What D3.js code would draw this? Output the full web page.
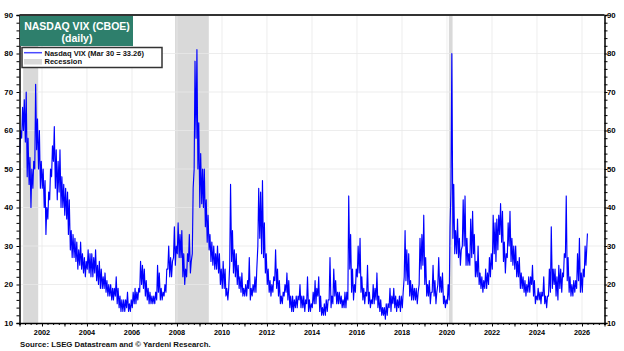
<!DOCTYPE html>
<html><head><meta charset="utf-8">
<script src="https://cdn.jsdelivr.net/npm/d3@7"></script>
<style>
body{margin:0;background:#fff}
svg{display:block}
text{font-family:"Liberation Sans",Arial,sans-serif;font-weight:bold}
</style>
</head><body>
<svg id="chart" width="624" height="351"></svg>
<script>
// ---------- DATA ----------
const startYear = 2001; // monthly values start Jan 2001
const monthlyLow = [
  54,58,60,57,48,46,40,45,50,55,50,45, // 2001
  45,40,33,37,42,48,52,45,42,44,40,40, // 2002
  38,37,33,29,27,27,26,24,25,24,23,22, // 2003
  24,23,22,22,23,21,20,19,19,19,18,17, // 2004
  17,16,16,17,15,14,13,13,13,14,13,13, // 2005
  14,15,15,16,18,20,19,17,16,15,15,15, // 2006
  15,16,18,16,16,17,18,24,22,22,27,25, // 2007
  28,27,27,22,20,22,26,23,28,50,58,50, // 2008
  40,41,40,35,31,29,26,25,24,24,23,20, // 2009
  19,19,17,16,25,26,23,22,20,19,18,17, // 2010
  17,17,19,16,17,18,18,30,32,28,27,23, // 2011
  20,18,17,18,21,19,17,15,15,17,18,16, // 2012
  14,13,13,14,14,16,14,14,13,15,13,13, // 2013
  14,15,15,17,13,12,12,12,13,16,14,15, // 2014
  17,15,15,15,14,14,14,16,24,18,16,18, // 2015
  22,23,18,16,15,17,15,14,15,15,16,14, // 2016
  13,12,12,11,12,14,13,15,14,13,14,13, // 2017
  14,22,21,20,17,16,16,16,15,20,24,25, // 2018
  20,17,17,15,18,17,15,20,18,18,15,14, // 2019
  15,16,45,32,28,28,27,25,30,30,25,25, // 2020
  25,27,28,22,22,20,19,18,19,19,20,22, // 2021
  24,28,26,29,33,31,26,23,27,30,26,25, // 2022
  24,22,22,19,19,18,17,18,18,20,17,15, // 2023
  16,16,15,17,15,14,17,18,19,20,17,16, // 2024
  19,18,22,27,21,18,17,17,18,19,21,18, // 2025
  18,22,25                             // 2026
];
const monthlyHigh = [
  60,66,68,70,58,53,50,52,72,63,60,52, // 2001
  50,47,40,44,50,56,61,55,52,55,48,46, // 2002
  45,44,42,34,33,32,31,29,31,28,27,26, // 2003
  29,28,28,27,29,25,26,24,22,23,21,20, // 2004
  20,19,19,22,19,17,16,16,16,18,15,16, // 2005
  18,19,18,19,26,25,24,21,19,18,17,17, // 2006
  18,25,23,19,18,20,24,30,27,26,35,30, // 2007
  36,33,34,28,24,28,33,26,45,78,81,62, // 2008
  54,50,50,42,38,33,31,30,28,30,28,24, // 2009
  26,24,19,19,46,34,29,28,25,22,23,19, // 2010
  20,21,27,19,20,22,24,45,44,47,36,28, // 2011
  24,21,20,22,29,24,21,17,18,20,23,21, // 2012
  17,17,16,17,17,20,17,17,16,22,16,15, // 2013
  18,21,19,22,17,14,15,16,16,27,17,24, // 2014
  21,18,18,17,16,18,18,43,33,24,20,24, // 2015
  30,32,22,19,18,25,18,16,20,19,23,17, // 2016
  16,14,14,15,15,19,17,19,17,16,17,17, // 2017
  18,34,29,28,21,20,19,19,18,32,33,38, // 2018
  27,20,21,18,25,21,18,27,22,23,17,16, // 2019
  20,35,80,46,34,37,32,29,42,43,32,28, // 2020
  37,39,33,26,30,23,22,21,24,23,27,28, // 2021
  38,36,37,38,41,39,31,28,36,39,32,30, // 2022
  30,26,27,23,22,21,20,22,22,25,21,17, // 2023
  19,18,18,22,17,17,24,35,24,24,22,25, // 2024
  24,23,28,43,27,22,20,21,21,28,32,23, // 2025
  24,30,31                             // 2026
];
const lastDate = "2026-03-30";
const lastValue = 33.26;
const recessionStarts = ["2001-03-01","2007-12-01","2020-02-01"];
const recessionEnds   = ["2001-11-01","2009-06-01","2020-04-01"];
const yTickValues = [10,20,30,40,50,60,70,80,90];
const xLabelYears = [2002,2004,2006,2008,2010,2012,2014,2016,2018,2020,2022,2024,2026];
const titleLines = ["NASDAQ VIX (CBOE)","(daily)"];
const legendLabels = ["Nasdaq VIX (Mar 30 = 33.26)","Recession"];
const sourceText = "Source: LSEG Datastream and \u00A9 Yardeni Research.";

// ---------- BUILD SERIES ----------
const parse = d3.timeParse("%Y-%m-%d");
const series = [];
monthlyLow.forEach((lo, i) => {
  const yr = startYear + Math.floor(i / 12), m = i % 12;
  series.push({date: new Date(yr, m, 6), value: lo});
  series.push({date: new Date(yr, m, 20), value: monthlyHigh[i]});
});
// replace final point with the last reading
series[series.length - 1] = {date: parse(lastDate), value: lastValue};

// ---------- SCALES ----------
const L = 19.5, R = 604.5, T = 15, B = 323;
const x = d3.scaleTime().domain([new Date(2001,0,1), new Date(2027,0,1)]).range([L, R]);
const y = d3.scaleLinear().domain([10, 90]).range([B, T]);

const svg = d3.select("#chart");

// recession bands
svg.append("g").selectAll("rect").data(recessionStarts).join("rect")
  .attr("x", (d) => x(parse(d)))
  .attr("width", (d, i) => x(parse(recessionEnds[i])) - x(parse(d)))
  .attr("y", T).attr("height", B - T)
  .attr("fill", "#d9d9d9");

// grid
const grid = svg.append("g").attr("stroke", "#e9e9e9").attr("stroke-width", 0.8);
grid.selectAll("line.h").data(yTickValues.slice(1, -1)).join("line")
  .attr("x1", L).attr("x2", R).attr("y1", d => y(d)).attr("y2", d => y(d));
grid.selectAll("line.v").data(xLabelYears).join("line")
  .attr("x1", d => x(new Date(d,0,1))).attr("x2", d => x(new Date(d,0,1)))
  .attr("y1", T).attr("y2", B);

// line
svg.append("path").datum(series)
  .attr("fill", "none").attr("stroke", "#0000ff").attr("stroke-width", 1.15)
  .attr("stroke-linejoin", "round")
  .attr("d", d3.line().x(d => x(d.date)).y(d => y(d.value)));

// axes
const minorY = d3.range(10, 91, 2);
const axL = svg.append("g").attr("transform", `translate(${L},0)`)
  .call(d3.axisLeft(y).tickValues(minorY).tickSize(3).tickFormat(""));
const axR = svg.append("g").attr("transform", `translate(${R},0)`)
  .call(d3.axisRight(y).tickValues(minorY).tickSize(3).tickFormat(""));
[axL, axR].forEach(g => { g.select(".domain").attr("stroke", "#000").attr("stroke-width", 1.5); g.selectAll(".tick line").attr("stroke", "#000"); });

svg.append("g").selectAll("text").data(yTickValues).join("text")
  .attr("x", 13).attr("y", d => y(d) + 2.8).attr("text-anchor", "end")
  .attr("font-size", 7.8).text(d => d);
svg.append("g").selectAll("text").data(yTickValues).join("text")
  .attr("x", 607).attr("y", d => y(d) + 2.8).attr("text-anchor", "start")
  .attr("font-size", 7.8).text(d => d);

const quarters = d3.timeMonth.every(3).range(new Date(2001,0,1), new Date(2027,0,2));
const axB = svg.append("g").attr("transform", `translate(0,${B})`)
  .call(d3.axisBottom(x).tickValues(quarters).tickSize(2).tickFormat(""));
axB.select(".domain").attr("stroke", "#000").attr("stroke-width", 1.5);
axB.selectAll(".tick line").attr("stroke", "#000");
const years = d3.timeYear.range(new Date(2001,0,1), new Date(2027,0,2));
svg.append("g").attr("transform", `translate(0,${B})`)
  .call(d3.axisBottom(x).tickValues(years).tickSize(3.5).tickFormat(""))
  .call(g => g.select(".domain").remove())
  .selectAll(".tick line").attr("stroke", "#000");
svg.append("g").selectAll("text").data(xLabelYears).join("text")
  .attr("x", d => x(new Date(d,0,1))).attr("y", 335).attr("text-anchor", "middle")
  .attr("font-size", 7.3).text(d => d);

// top frame
svg.append("line").attr("x1", L).attr("x2", R).attr("y1", T).attr("y2", T)
  .attr("stroke", "#333").attr("stroke-width", 1.8);

// title box
svg.append("rect").attr("x", 20).attr("y", 16).attr("width", 113).attr("height", 30)
  .attr("fill", "#2e7f6c");
svg.append("g").selectAll("text").data(titleLines).join("text")
  .attr("x", 77).attr("y", (d, i) => 29.5 + i * 12).attr("text-anchor", "middle")
  .attr("font-size", 10.5).attr("fill", "#fff").text(d => d);

// legend
const lg = svg.append("g");
lg.append("rect").attr("x", 22).attr("y", 47.5).attr("width", 140).attr("height", 20)
  .attr("fill", "#fff").attr("stroke", "#333").attr("stroke-width", 1.5);
lg.append("line").attr("x1", 24).attr("x2", 42).attr("y1", 52.7).attr("y2", 52.7)
  .attr("stroke", "#4a4aff").attr("stroke-width", 1.5);
lg.append("rect").attr("x", 24).attr("y", 59).attr("width", 18).attr("height", 5.5)
  .attr("fill", "#d9d9d9");
lg.selectAll("text").data(legendLabels).join("text")
  .attr("x", 44.5).attr("y", (d, i) => 55.5 + i * 8.5)
  .attr("font-size", 7.5).attr("fill", "#111").text(d => d);

// source
svg.append("text").attr("x", 20).attr("y", 347).attr("font-size", 7.8)
  .attr("fill", "#111").text(sourceText);
</script>
</body></html>
